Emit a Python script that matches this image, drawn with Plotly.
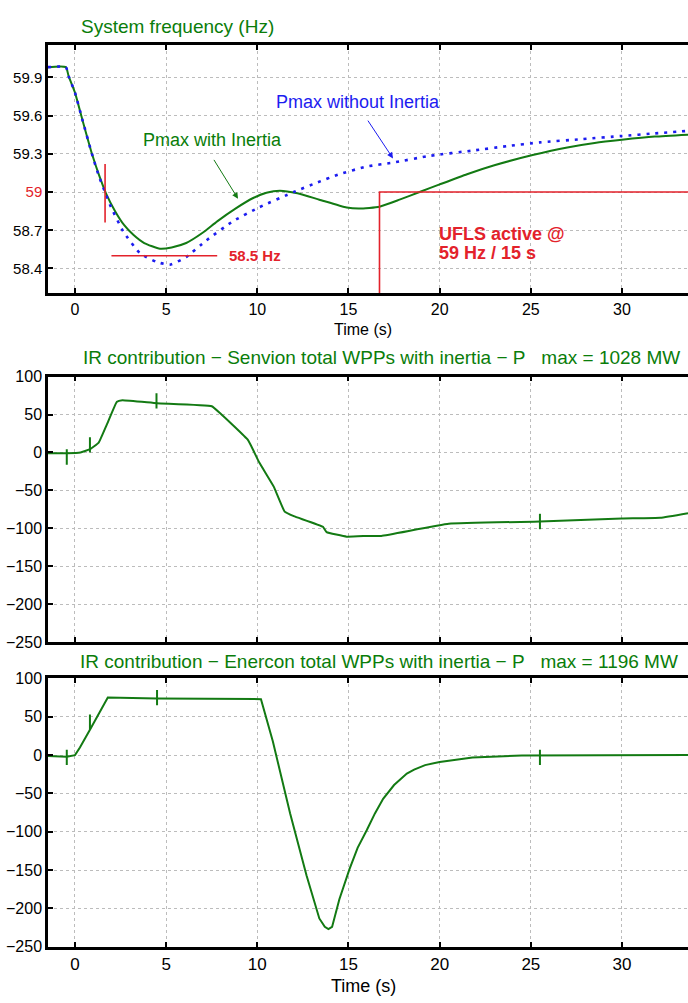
import plotly.graph_objects as go

W, H = 688, 1003
LEFT = 48

# ---------------- data ----------------
# System frequency (Hz)
t_with = [-1.48, -0.5, -0.35, 0.0, 0.4, 0.93, 1.3, 1.7, 2.2, 2.7, 3.2, 3.8, 4.66, 5.3, 6.1,
          7.0, 7.8, 8.8, 9.8, 10.5, 11.24, 12.2, 13.4, 14.9, 15.6, 16.7, 17.8, 18.9, 20.0,
          21.5, 23.0, 25.1, 27.0, 28.5, 30.0, 31.8, 33.62]
f_with = [59.98, 59.98, 59.91, 59.78, 59.57, 59.30, 59.14, 58.99, 58.85, 58.74, 58.665, 58.60,
          58.555, 58.565, 58.60, 58.68, 58.77, 58.87, 58.955, 58.995, 59.01, 58.99, 58.94,
          58.878, 58.87, 58.885, 58.94, 59.0, 59.06, 59.14, 59.21, 59.29, 59.35, 59.385,
          59.41, 59.435, 59.45]

t_without = [-1.48, -0.5, -0.35, 0.0, 0.4, 0.93, 1.3, 1.7, 1.92, 2.65, 3.56, 4.5, 5.2, 6.1,
             7.2, 8.66, 10.1, 12.0, 13.2, 14.5, 16.0, 17.4, 19.5, 21.8, 23.7, 25.5, 27.8,
             30.0, 31.8, 33.62]
f_without = [59.98, 59.98, 59.91, 59.78, 59.57, 59.30, 59.13, 58.98, 58.90, 58.69, 58.52,
             58.45, 58.43, 58.49, 58.62, 58.77, 58.88, 59.0, 59.07, 59.14, 59.20, 59.23,
             59.285, 59.325, 59.36, 59.39, 59.415, 59.44, 59.46, 59.48]

# UFLS threshold step and frequency markers
ufls_t = [16.7, 16.7, 40.0]
ufls_f = [58.0, 59.0, 59.0]
cross_t = [1.65, 1.65]
cross_f = [58.76, 59.22]
nadir_t = [2.0, 7.8]
nadir_f = [58.5, 58.5]

# IR contribution - Senvion (MW)
t_senvion = [-1.48, -0.45, 0.3, 0.8, 1.3, 1.75, 2.3, 2.6, 4.5, 7.5, 7.95, 9.5, 10.1, 10.9,
             11.5, 12.0, 13.6, 13.8, 14.9, 16.1, 16.8, 20.5, 25.5, 30.0, 32.1, 33.62]
p_senvion = [-1, -1, 0, 4, 13, 37, 67, 69, 65, 61, 52, 16, -13, -45, -78, -84, -98, -105,
             -111, -110, -110, -94, -91, -87, -86, -80]
mark_t_senvion = [-0.45, 0.82, 4.47, 25.5]
mark_p_senvion = [-6, 10, 68, -91]

# IR contribution - Enercon (MW)
t_enercon = [-1.48, -0.45, 0.0, 0.27, 0.82, 1.8, 4.5, 9.0, 10.2, 10.85, 11.8, 12.7, 13.4,
             13.7, 13.9, 14.1, 14.5, 15.05, 15.5, 16.0, 16.45, 16.9, 17.5, 18.2, 18.6, 19.2,
             20.0, 21.8, 24.5, 33.62]
p_enercon = [-1, -2, 0, 10, 33, 75, 74, 73, 73, 18, -76, -157, -213, -224, -227, -224, -188,
             -149, -121, -98, -76, -57, -39, -24, -19, -13, -9, -3, -0.5, 0]
mark_t_enercon = [-0.45, 0.82, 4.5, 25.5]
mark_p_enercon = [-3, 43, 75, -3]

x_ticks = [0, 5, 10, 15, 20, 25, 30, 35]
f_ticks = [58.4, 58.7, 59.0, 59.3, 59.6, 59.9]
f_ticktext = ["58.4", "58.7", "<span style='color:#e3222b'>59</span>", "59.3", "59.6", "59.9"]
p_ticks = [-250, -200, -150, -100, -50, 0, 50, 100]

# ---------------- styling ----------------
GREEN = "#137a13"
TXT_GREEN = "#0a7d0a"
BLUE = "#1c1cf0"
RED = "#e3222b"
SANS = "Liberation Sans, Arial, sans-serif"
X_RANGE = [-1.48, 33.62]


def px_dom(top, bottom):
    return [1 - bottom / H, 1 - top / H]


fig = go.Figure()

# top panel
fig.add_trace(go.Scatter(x=t_with, y=f_with, mode="lines",
                         line=dict(color=GREEN, width=2, shape="spline", smoothing=0.5),
                         xaxis="x", yaxis="y"))
fig.add_trace(go.Scatter(x=t_without, y=f_without, mode="lines",
                         line=dict(color=BLUE, width=2.6, dash="3px,6px", shape="spline", smoothing=0.5),
                         xaxis="x", yaxis="y"))
for tx, fy in ((ufls_t, ufls_f), (cross_t, cross_f), (nadir_t, nadir_f)):
    fig.add_trace(go.Scatter(x=tx, y=fy, mode="lines", line=dict(color=RED, width=1.6),
                             xaxis="x", yaxis="y"))

# middle panel
fig.add_trace(go.Scatter(x=t_senvion, y=p_senvion, mode="lines",
                         line=dict(color=GREEN, width=2, shape="spline", smoothing=0.3),
                         xaxis="x2", yaxis="y2"))
fig.add_trace(go.Scatter(x=mark_t_senvion, y=mark_p_senvion, mode="markers",
                         marker=dict(symbol="line-ns", size=11, line=dict(color=GREEN, width=2)),
                         xaxis="x2", yaxis="y2"))

# bottom panel
fig.add_trace(go.Scatter(x=t_enercon, y=p_enercon, mode="lines",
                         line=dict(color=GREEN, width=2),
                         xaxis="x3", yaxis="y3"))
fig.add_trace(go.Scatter(x=mark_t_enercon, y=mark_p_enercon, mode="markers",
                         marker=dict(symbol="line-ns", size=11, line=dict(color=GREEN, width=2)),
                         xaxis="x3", yaxis="y3"))

axis_common = dict(showline=True, linecolor="black", linewidth=2.5, ticks="inside", ticklen=5,
                   tickwidth=1.5, tickcolor="black", showgrid=True, gridcolor="#bcbcbc",
                   griddash="dot", gridwidth=1, zeroline=False)

xa = dict(axis_common, range=X_RANGE, tickvals=x_ticks, mirror="ticks", domain=[0, 1])
fig.update_layout(
    xaxis=dict(xa, anchor="y", tickfont=dict(family=SANS, size=16, color="black")),
    yaxis=dict(axis_common, anchor="x", domain=px_dom(38, 290), range=[58.207, 60.151],
               tickvals=f_ticks, ticktext=f_ticktext, tickfont=dict(family=SANS, size=15, color="black")),
    xaxis2=dict(xa, anchor="y2", showticklabels=False),
    yaxis2=dict(axis_common, anchor="x2", domain=px_dom(375, 645), range=[-250, 100],
                tickvals=p_ticks, tickfont=dict(family=SANS, size=16, color="black")),
    xaxis3=dict(xa, anchor="y3", tickfont=dict(family=SANS, size=17, color="black")),
    yaxis3=dict(axis_common, anchor="x3", domain=px_dom(682, 955), range=[-250, 100],
                tickvals=p_ticks, tickfont=dict(family=SANS, size=16, color="black")),
)


def paper_x(px):
    return (px - LEFT) / (W - LEFT)


def paper_y(py):
    return 1 - py / H


ann = []


def text_px(s, x, y, font, xanchor="center"):
    ann.append(dict(text=s, x=paper_x(x), y=paper_y(y), xref="paper", yref="paper",
                    xanchor=xanchor, yanchor="middle", showarrow=False, font=font))


# panel titles and axis labels
text_px("System frequency (Hz)", 177, 19, dict(family=SANS, size=19, color=TXT_GREEN))
text_px("IR contribution \u2212 Senvion total WPPs with inertia \u2212 P\u00a0\u00a0\u00a0max = 1028 MW",
        381, 356, dict(family=SANS, size=19, color=TXT_GREEN))
text_px("IR contribution \u2212 Enercon total WPPs with inertia \u2212 P\u00a0\u00a0\u00a0max = 1196 MW",
        379, 665, dict(family=SANS, size=19, color=TXT_GREEN))
text_px("Time (s)", 363, 327, dict(family=SANS, size=16, color="black"))
text_px("Time (s)", 363, 995, dict(family=SANS, size=18, color="black"))

# top panel callouts (data coordinates)
ann += [
    dict(text="Pmax without Inertia", x=15.52, y=59.707, xref="x", yref="y", showarrow=False,
         xanchor="center", yanchor="middle", font=dict(family=SANS, size=18, color=BLUE)),
    dict(text="", x=17.44, y=59.264, ax=16.01, ay=59.572, axref="x", ayref="y", xref="x", yref="y",
         showarrow=True, arrowhead=2, arrowsize=1.2, arrowwidth=1, arrowcolor=BLUE),
    dict(text="Pmax with Inertia", x=7.54, y=59.41, xref="x", yref="y", showarrow=False,
         xanchor="center", yanchor="middle", font=dict(family=SANS, size=18, color=TXT_GREEN)),
    dict(text="", x=8.94, y=58.948, ax=7.57, ay=59.264, axref="x", ayref="y", xref="x", yref="y",
         showarrow=True, arrowhead=2, arrowsize=1.2, arrowwidth=1, arrowcolor=GREEN),
    dict(text="<b>58.5 Hz</b>", x=8.34, y=58.50, xref="x", yref="y", showarrow=False,
         xanchor="left", yanchor="middle", font=dict(family=SANS, size=15, color=RED)),
    dict(text="<b>UFLS active @</b>", x=19.85, y=58.670, xref="x", yref="y", showarrow=False,
         xanchor="left", yanchor="middle", font=dict(family=SANS, size=18, color=RED)),
    dict(text="<b>59 Hz / 15 s</b>", x=19.85, y=58.523, xref="x", yref="y", showarrow=False,
         xanchor="left", yanchor="middle", font=dict(family=SANS, size=18, color=RED)),
]

fig.update_layout(
    width=W, height=H, margin=dict(l=LEFT, r=0, t=0, b=0),
    paper_bgcolor="white", plot_bgcolor="white", showlegend=False,
    annotations=ann,
)

fig.write_html("out.html")
